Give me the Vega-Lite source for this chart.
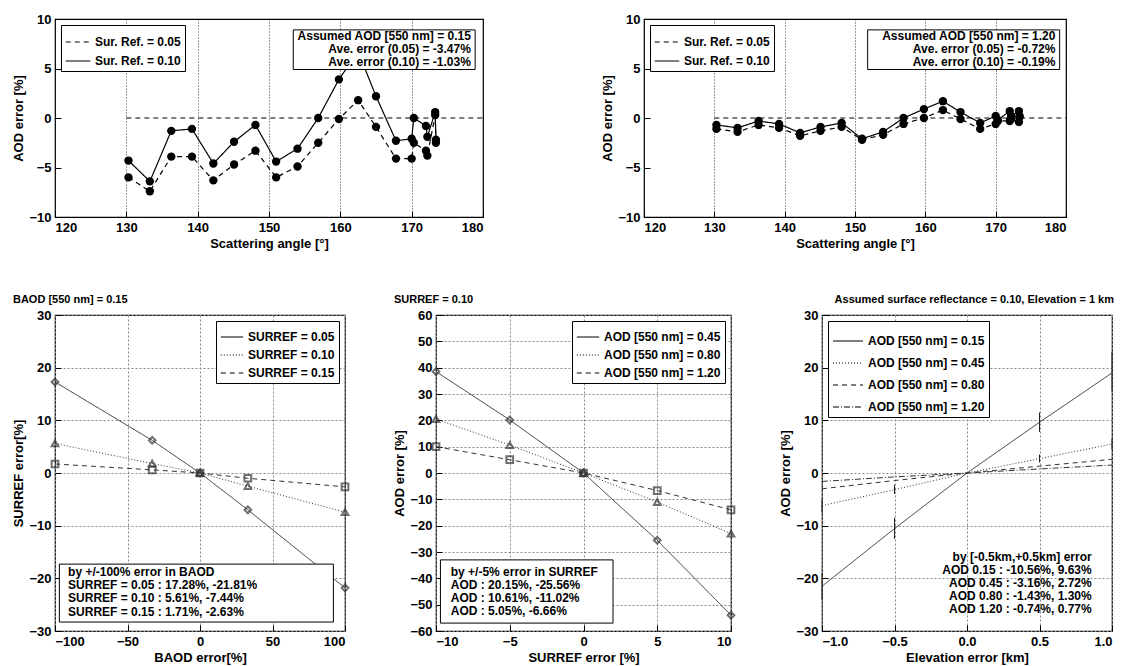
{
  "$schema": "https://vega.github.io/schema/vega-lite/v6.json",
  "background": "white",
  "padding": {"left": 12, "top": 12, "right": 5, "bottom": 2},
  "config": {
    "font": "Liberation Sans",
    "view": {"stroke": "black", "strokeWidth": 1.2},
    "axis": {
      "domain": false, "grid": false, "tickSize": -6, "tickColor": "black",
      "labelFontSize": 13, "labelFontWeight": "bold", "labelColor": "black", "labelPadding": 10,
      "titleFontSize": 13, "titleFontWeight": "bold", "titleColor": "black", "titlePadding": 3
    },
    "legend": {
      "strokeColor": "black", "fillColor": "white", "padding": 4, "labelFontSize": 12,
      "labelFontWeight": "bold", "labelColor": "black", "symbolStrokeColor": "black", "symbolStrokeWidth": 1.2,
      "offset": 6, "rowPadding": 0
    },
    "title": {"fontSize": 11, "fontWeight": "bold", "anchor": "start", "offset": 4}
  },
  "resolve": {"scale": {"x": "independent", "y": "independent", "strokeDash": "independent", "shape": "independent"}, "legend": {"strokeDash": "independent", "shape": "independent"}},
  "datasets": {
    "top1": [
      {"a": 130.3, "e": -4.3, "s": "Sur. Ref. = 0.10"}, {"a": 133.3, "e": -6.4, "s": "Sur. Ref. = 0.10"},
      {"a": 136.3, "e": -1.3, "s": "Sur. Ref. = 0.10"}, {"a": 139.2, "e": -1.1, "s": "Sur. Ref. = 0.10"},
      {"a": 142.2, "e": -4.6, "s": "Sur. Ref. = 0.10"}, {"a": 145.1, "e": -2.4, "s": "Sur. Ref. = 0.10"},
      {"a": 148.1, "e": -0.7, "s": "Sur. Ref. = 0.10"}, {"a": 151.0, "e": -4.4, "s": "Sur. Ref. = 0.10"},
      {"a": 154.0, "e": -3.1, "s": "Sur. Ref. = 0.10"}, {"a": 156.9, "e": 0.0, "s": "Sur. Ref. = 0.10"},
      {"a": 159.8, "e": 3.9, "s": "Sur. Ref. = 0.10"}, {"a": 162.5, "e": 6.7, "s": "Sur. Ref. = 0.10"},
      {"a": 165.0, "e": 2.2, "s": "Sur. Ref. = 0.10"}, {"a": 167.8, "e": -2.3, "s": "Sur. Ref. = 0.10"},
      {"a": 170.0, "e": -2.1, "s": "Sur. Ref. = 0.10"}, {"a": 170.3, "e": 0.0, "s": "Sur. Ref. = 0.10"},
      {"a": 172.0, "e": -0.8, "s": "Sur. Ref. = 0.10"}, {"a": 172.2, "e": -1.9, "s": "Sur. Ref. = 0.10"},
      {"a": 173.3, "e": 0.6, "s": "Sur. Ref. = 0.10"}, {"a": 173.4, "e": -2.2, "s": "Sur. Ref. = 0.10"},
      {"a": 130.3, "e": -6.0, "s": "Sur. Ref. = 0.05"}, {"a": 133.3, "e": -7.4, "s": "Sur. Ref. = 0.05"},
      {"a": 136.3, "e": -3.9, "s": "Sur. Ref. = 0.05"}, {"a": 139.2, "e": -3.9, "s": "Sur. Ref. = 0.05"},
      {"a": 142.2, "e": -6.3, "s": "Sur. Ref. = 0.05"}, {"a": 145.1, "e": -4.7, "s": "Sur. Ref. = 0.05"},
      {"a": 148.1, "e": -3.3, "s": "Sur. Ref. = 0.05"}, {"a": 151.0, "e": -6.0, "s": "Sur. Ref. = 0.05"},
      {"a": 154.0, "e": -4.9, "s": "Sur. Ref. = 0.05"}, {"a": 156.9, "e": -2.5, "s": "Sur. Ref. = 0.05"},
      {"a": 159.8, "e": -0.1, "s": "Sur. Ref. = 0.05"}, {"a": 162.5, "e": 1.8, "s": "Sur. Ref. = 0.05"},
      {"a": 165.0, "e": -0.9, "s": "Sur. Ref. = 0.05"}, {"a": 167.8, "e": -4.1, "s": "Sur. Ref. = 0.05"},
      {"a": 170.0, "e": -4.1, "s": "Sur. Ref. = 0.05"}, {"a": 170.3, "e": -2.5, "s": "Sur. Ref. = 0.05"},
      {"a": 172.0, "e": -3.3, "s": "Sur. Ref. = 0.05"}, {"a": 172.2, "e": -3.8, "s": "Sur. Ref. = 0.05"},
      {"a": 173.3, "e": 0.3, "s": "Sur. Ref. = 0.05"}, {"a": 173.4, "e": -2.5, "s": "Sur. Ref. = 0.05"}
    ],
    "top2": [
      {"a": 130.3, "e": -0.7, "s": "Sur. Ref. = 0.10"}, {"a": 133.3, "e": -1.0, "s": "Sur. Ref. = 0.10"},
      {"a": 136.3, "e": -0.3, "s": "Sur. Ref. = 0.10"}, {"a": 139.2, "e": -0.6, "s": "Sur. Ref. = 0.10"},
      {"a": 142.2, "e": -1.5, "s": "Sur. Ref. = 0.10"}, {"a": 145.1, "e": -0.9, "s": "Sur. Ref. = 0.10"},
      {"a": 148.1, "e": -0.5, "s": "Sur. Ref. = 0.10"}, {"a": 151.0, "e": -2.1, "s": "Sur. Ref. = 0.10"},
      {"a": 154.0, "e": -1.4, "s": "Sur. Ref. = 0.10"}, {"a": 156.9, "e": 0.0, "s": "Sur. Ref. = 0.10"},
      {"a": 159.8, "e": 0.9, "s": "Sur. Ref. = 0.10"}, {"a": 162.5, "e": 1.7, "s": "Sur. Ref. = 0.10"},
      {"a": 165.0, "e": 0.6, "s": "Sur. Ref. = 0.10"}, {"a": 167.8, "e": -0.5, "s": "Sur. Ref. = 0.10"},
      {"a": 170.0, "e": 0.2, "s": "Sur. Ref. = 0.10"}, {"a": 170.3, "e": -0.2, "s": "Sur. Ref. = 0.10"},
      {"a": 172.0, "e": 0.7, "s": "Sur. Ref. = 0.10"}, {"a": 172.2, "e": 0.2, "s": "Sur. Ref. = 0.10"},
      {"a": 173.3, "e": 0.7, "s": "Sur. Ref. = 0.10"}, {"a": 173.4, "e": 0.2, "s": "Sur. Ref. = 0.10"},
      {"a": 130.3, "e": -1.1, "s": "Sur. Ref. = 0.05"}, {"a": 133.3, "e": -1.4, "s": "Sur. Ref. = 0.05"},
      {"a": 136.3, "e": -0.7, "s": "Sur. Ref. = 0.05"}, {"a": 139.2, "e": -1.0, "s": "Sur. Ref. = 0.05"},
      {"a": 142.2, "e": -1.8, "s": "Sur. Ref. = 0.05"}, {"a": 145.1, "e": -1.3, "s": "Sur. Ref. = 0.05"},
      {"a": 148.1, "e": -0.9, "s": "Sur. Ref. = 0.05"}, {"a": 151.0, "e": -2.2, "s": "Sur. Ref. = 0.05"},
      {"a": 154.0, "e": -1.7, "s": "Sur. Ref. = 0.05"}, {"a": 156.9, "e": -0.6, "s": "Sur. Ref. = 0.05"},
      {"a": 159.8, "e": 0.0, "s": "Sur. Ref. = 0.05"}, {"a": 162.5, "e": 0.8, "s": "Sur. Ref. = 0.05"},
      {"a": 165.0, "e": -0.1, "s": "Sur. Ref. = 0.05"}, {"a": 167.8, "e": -1.1, "s": "Sur. Ref. = 0.05"},
      {"a": 170.0, "e": -0.6, "s": "Sur. Ref. = 0.05"}, {"a": 170.3, "e": -0.3, "s": "Sur. Ref. = 0.05"},
      {"a": 172.0, "e": -0.3, "s": "Sur. Ref. = 0.05"}, {"a": 172.2, "e": -0.1, "s": "Sur. Ref. = 0.05"},
      {"a": 173.3, "e": -0.4, "s": "Sur. Ref. = 0.05"}, {"a": 173.4, "e": 0.1, "s": "Sur. Ref. = 0.05"}
    ],
    "zero": [{"a": 130, "e": 0}, {"a": 180, "e": 0}],
    "box1": [{"x1": 153.4, "x2": 178.9, "y1": 4.9, "y2": 8.9}],
    "txt1": [
      {"x": 178.3, "y": 8.3, "t": "Assumed AOD [550 nm] =  0.15"},
      {"x": 178.3, "y": 7.0, "t": "Ave. error (0.05) = -3.47%"},
      {"x": 178.3, "y": 5.7, "t": "Ave. error (0.10) = -1.03%"}
    ],
    "box2": [{"x1": 151.8, "x2": 179.1, "y1": 4.9, "y2": 8.9}],
    "txt2": [
      {"x": 178.5, "y": 8.3, "t": "Assumed AOD [550 nm] =  1.20"},
      {"x": 178.5, "y": 7.0, "t": "Ave. error (0.05) = -0.72%"},
      {"x": 178.5, "y": 5.7, "t": "Ave. error (0.10) = -0.19%"}
    ],
    "b1": [
      {"x": -100, "y": 17.28, "s": "SURREF = 0.05"}, {"x": -33, "y": 6.2, "s": "SURREF = 0.05"}, {"x": 0, "y": 0, "s": "SURREF = 0.05"}, {"x": 33, "y": -7.0, "s": "SURREF = 0.05"}, {"x": 100, "y": -21.81, "s": "SURREF = 0.05"},
      {"x": -100, "y": 5.61, "s": "SURREF = 0.10"}, {"x": -33, "y": 1.8, "s": "SURREF = 0.10"}, {"x": 0, "y": 0, "s": "SURREF = 0.10"}, {"x": 33, "y": -2.5, "s": "SURREF = 0.10"}, {"x": 100, "y": -7.44, "s": "SURREF = 0.10"},
      {"x": -100, "y": 1.71, "s": "SURREF = 0.15"}, {"x": -33, "y": 0.6, "s": "SURREF = 0.15"}, {"x": 0, "y": 0, "s": "SURREF = 0.15"}, {"x": 33, "y": -1.0, "s": "SURREF = 0.15"}, {"x": 100, "y": -2.63, "s": "SURREF = 0.15"}
    ],
    "bbox1": [{"x1": -97, "x2": 92, "y1": -28.3, "y2": -17.3}],
    "btxt1": [
      {"x": -91, "y": -18.8, "t": "by +/-100% error in BAOD"},
      {"x": -91, "y": -21.3, "t": "SURREF = 0.05 :  17.28%,  -21.81%"},
      {"x": -91, "y": -23.8, "t": "SURREF = 0.10 :    5.61%,    -7.44%"},
      {"x": -91, "y": -26.3, "t": "SURREF = 0.15 :    1.71%,    -2.63%"}
    ],
    "b2": [
      {"x": -10, "y": 38.5, "s": "AOD [550 nm] = 0.45"}, {"x": -5, "y": 20.15, "s": "AOD [550 nm] = 0.45"}, {"x": 0, "y": 0, "s": "AOD [550 nm] = 0.45"}, {"x": 5, "y": -25.56, "s": "AOD [550 nm] = 0.45"}, {"x": 10, "y": -54, "s": "AOD [550 nm] = 0.45"},
      {"x": -10, "y": 20.5, "s": "AOD [550 nm] = 0.80"}, {"x": -5, "y": 10.61, "s": "AOD [550 nm] = 0.80"}, {"x": 0, "y": 0, "s": "AOD [550 nm] = 0.80"}, {"x": 5, "y": -11.02, "s": "AOD [550 nm] = 0.80"}, {"x": 10, "y": -23, "s": "AOD [550 nm] = 0.80"},
      {"x": -10, "y": 10, "s": "AOD [550 nm] = 1.20"}, {"x": -5, "y": 5.05, "s": "AOD [550 nm] = 1.20"}, {"x": 0, "y": 0, "s": "AOD [550 nm] = 1.20"}, {"x": 5, "y": -6.66, "s": "AOD [550 nm] = 1.20"}, {"x": 10, "y": -14, "s": "AOD [550 nm] = 1.20"}
    ],
    "bbox2": [{"x1": -9.7, "x2": 2.0, "y1": -57, "y2": -33}],
    "btxt2": [
      {"x": -9.0, "y": -37.5, "t": "by +/-5% error in SURREF"},
      {"x": -9.0, "y": -42.5, "t": "AOD :  20.15%,  -25.56%"},
      {"x": -9.0, "y": -47.5, "t": "AOD :  10.61%,  -11.02%"},
      {"x": -9.0, "y": -52.5, "t": "AOD :    5.05%,    -6.66%"}
    ],
    "b3": [
      {"x": -1, "y": -21.5, "s": "AOD [550 nm] = 0.15"}, {"x": -0.5, "y": -10.56, "s": "AOD [550 nm] = 0.15"}, {"x": 0, "y": 0, "s": "AOD [550 nm] = 0.15"}, {"x": 0.5, "y": 9.63, "s": "AOD [550 nm] = 0.15"}, {"x": 1, "y": 19, "s": "AOD [550 nm] = 0.15"},
      {"x": -1, "y": -6.2, "s": "AOD [550 nm] = 0.45"}, {"x": -0.5, "y": -3.16, "s": "AOD [550 nm] = 0.45"}, {"x": 0, "y": 0, "s": "AOD [550 nm] = 0.45"}, {"x": 0.5, "y": 2.72, "s": "AOD [550 nm] = 0.45"}, {"x": 1, "y": 5.5, "s": "AOD [550 nm] = 0.45"},
      {"x": -1, "y": -3.0, "s": "AOD [550 nm] = 0.80"}, {"x": -0.5, "y": -1.43, "s": "AOD [550 nm] = 0.80"}, {"x": 0, "y": 0, "s": "AOD [550 nm] = 0.80"}, {"x": 0.5, "y": 1.3, "s": "AOD [550 nm] = 0.80"}, {"x": 1, "y": 2.6, "s": "AOD [550 nm] = 0.80"},
      {"x": -1, "y": -1.6, "s": "AOD [550 nm] = 1.20"}, {"x": -0.5, "y": -0.74, "s": "AOD [550 nm] = 1.20"}, {"x": 0, "y": 0, "s": "AOD [550 nm] = 1.20"}, {"x": 0.5, "y": 0.77, "s": "AOD [550 nm] = 1.20"}, {"x": 1, "y": 1.5, "s": "AOD [550 nm] = 1.20"}
    ],
    "err3": [
      {"x": 0.5, "lo": 7.8, "hi": 11.5}, {"x": -0.5, "lo": -12.5, "hi": -8.5}, {"x": 1, "lo": 15.5, "hi": 23},
      {"x": 0.5, "lo": 2.0, "hi": 3.5}, {"x": -0.5, "lo": -4, "hi": -2.2}, {"x": 1, "lo": 4.5, "hi": 6.5},
      {"x": -1, "lo": -24, "hi": -19}, {"x": -1, "lo": -7.5, "hi": -5}
    ],
    "btxt3": [
      {"x": 0.86, "y": -15.9, "t": "by [-0.5km,+0.5km] error"},
      {"x": 0.86, "y": -18.4, "t": "AOD 0.15 : -10.56%,    9.63%"},
      {"x": 0.86, "y": -20.9, "t": "AOD 0.45 :  -3.16%,    2.72%"},
      {"x": 0.86, "y": -23.4, "t": "AOD 0.80 :  -1.43%,    1.30%"},
      {"x": 0.86, "y": -25.9, "t": "AOD 1.20 :  -0.74%,    0.77%"}
    ]
  },
  "vconcat": [
    {
      "spacing": 115,
      "hconcat": [
        {
          "width": 428, "height": 198,
          "encoding": {
            "x": {"field": "a", "type": "quantitative", "scale": {"domain": [120, 180], "nice": false},
                  "axis": {"title": "Scattering angle [°]", "values": [120, 130, 140, 150, 160, 170, 180], "grid": true, "gridColor": "black", "gridDash": [1, 2], "gridWidth": 0.8}},
            "y": {"field": "e", "type": "quantitative", "scale": {"domain": [-10, 10], "nice": false},
                  "axis": {"title": "AOD error [%]", "values": [-10, -5, 0, 5, 10]}}
          },
          "layer": [
            {"data": {"name": "zero"}, "mark": {"type": "line", "color": "black", "strokeDash": [5, 4], "strokeWidth": 1}},
            {"data": {"name": "top1"},
             "mark": {"type": "line", "color": "black", "strokeWidth": 1.2},
             "encoding": {"strokeDash": {"field": "s", "type": "nominal",
               "scale": {"domain": ["Sur. Ref. = 0.05", "Sur. Ref. = 0.10"], "range": [[5, 4], [1, 0]]},
               "legend": {"orient": "top-left", "title": null, "symbolType": "stroke", "symbolSize": 600}}}},
            {"data": {"name": "top1"}, "mark": {"type": "circle", "color": "black", "size": 70, "opacity": 1}},
            {"data": {"name": "box1"}, "mark": {"type": "rect", "fill": "white", "stroke": "black", "strokeWidth": 1},
             "encoding": {"x": {"field": "x1", "type": "quantitative"}, "x2": {"field": "x2"}, "y": {"field": "y1", "type": "quantitative"}, "y2": {"field": "y2"}}},
            {"data": {"name": "txt1"}, "mark": {"type": "text", "align": "right", "fontSize": 12, "fontWeight": "bold"},
             "encoding": {"x": {"field": "x", "type": "quantitative"}, "y": {"field": "y", "type": "quantitative"}, "text": {"field": "t"}}}
          ]
        },
        {
          "width": 422, "height": 198,
          "encoding": {
            "x": {"field": "a", "type": "quantitative", "scale": {"domain": [120, 180], "nice": false},
                  "axis": {"title": "Scattering angle [°]", "values": [120, 130, 140, 150, 160, 170, 180], "grid": true, "gridColor": "black", "gridDash": [1, 2], "gridWidth": 0.8}},
            "y": {"field": "e", "type": "quantitative", "scale": {"domain": [-10, 10], "nice": false},
                  "axis": {"title": "AOD error [%]", "values": [-10, -5, 0, 5, 10]}}
          },
          "layer": [
            {"data": {"name": "zero"}, "mark": {"type": "line", "color": "black", "strokeDash": [5, 4], "strokeWidth": 1}},
            {"data": {"name": "top2"},
             "mark": {"type": "line", "color": "black", "strokeWidth": 1.2},
             "encoding": {"strokeDash": {"field": "s", "type": "nominal",
               "scale": {"domain": ["Sur. Ref. = 0.05", "Sur. Ref. = 0.10"], "range": [[5, 4], [1, 0]]},
               "legend": {"orient": "top-left", "title": null, "symbolType": "stroke", "symbolSize": 600}}}},
            {"data": {"name": "top2"}, "mark": {"type": "circle", "color": "black", "size": 70, "opacity": 1}},
            {"data": {"name": "box2"}, "mark": {"type": "rect", "fill": "white", "stroke": "black", "strokeWidth": 1},
             "encoding": {"x": {"field": "x1", "type": "quantitative"}, "x2": {"field": "x2"}, "y": {"field": "y1", "type": "quantitative"}, "y2": {"field": "y2"}}},
            {"data": {"name": "txt2"}, "mark": {"type": "text", "align": "right", "fontSize": 12, "fontWeight": "bold"},
             "encoding": {"x": {"field": "x", "type": "quantitative"}, "y": {"field": "y", "type": "quantitative"}, "text": {"field": "t"}}}
          ]
        }
      ],
      "resolve": {"scale": {"x": "independent", "strokeDash": "independent"}, "legend": {"strokeDash": "independent"}}
    },
    {
      "spacing": 40,
      "hconcat": [
        {
          "title": "BAOD [550 nm] = 0.15",
          "width": 290, "height": 316,
          "encoding": {
            "x": {"field": "x", "type": "quantitative", "scale": {"domain": [-100, 100], "nice": false},
                  "axis": {"title": "BAOD error[%]", "values": [-100, -50, 0, 50, 100], "grid": true, "gridColor": "#888", "gridDash": [2, 2]}},
            "y": {"field": "y", "type": "quantitative", "scale": {"domain": [-30, 30], "nice": false},
                  "axis": {"title": "SURREF error[%]", "values": [-30, -20, -10, 0, 10, 20, 30], "grid": true, "gridColor": "#888", "gridDash": [2, 2]}}
          },
          "layer": [
            {"data": {"name": "b1"}, "mark": {"type": "line", "color": "#333", "strokeWidth": 1},
             "encoding": {"strokeDash": {"field": "s", "type": "nominal", "scale": {"range": [[1, 0], [1, 2], [5, 4]]}, "legend": {"orient": "top-right", "title": null, "symbolType": "stroke", "symbolSize": 500}}}},
            {"data": {"name": "b1"}, "mark": {"type": "point", "filled": false, "color": "#333", "size": 45},
             "encoding": {"shape": {"field": "s", "type": "nominal", "scale": {"range": ["diamond", "triangle-up", "square"]}, "legend": null}}},
            {"data": {"name": "bbox1"}, "mark": {"type": "rect", "fill": "white", "stroke": "black", "strokeWidth": 1},
             "encoding": {"x": {"field": "x1", "type": "quantitative"}, "x2": {"field": "x2"}, "y": {"field": "y1", "type": "quantitative"}, "y2": {"field": "y2"}}},
            {"data": {"name": "btxt1"}, "mark": {"type": "text", "align": "left", "fontSize": 12, "fontWeight": "bold"},
             "encoding": {"x": {"field": "x", "type": "quantitative"}, "y": {"field": "y", "type": "quantitative"}, "text": {"field": "t"}}}
          ]
        },
        {
          "title": "SURREF = 0.10",
          "width": 295, "height": 316,
          "encoding": {
            "x": {"field": "x", "type": "quantitative", "scale": {"domain": [-10, 10], "nice": false},
                  "axis": {"title": "SURREF error [%]", "values": [-10, -5, 0, 5, 10], "grid": true, "gridColor": "#888", "gridDash": [2, 2]}},
            "y": {"field": "y", "type": "quantitative", "scale": {"domain": [-60, 60], "nice": false},
                  "axis": {"title": "AOD error [%]", "values": [-60, -50, -40, -30, -20, -10, 0, 10, 20, 30, 40, 50, 60], "grid": true, "gridColor": "#888", "gridDash": [2, 2]}}
          },
          "layer": [
            {"data": {"name": "b2"}, "mark": {"type": "line", "color": "#333", "strokeWidth": 1},
             "encoding": {"strokeDash": {"field": "s", "type": "nominal", "scale": {"range": [[1, 0], [1, 2], [5, 4]]}, "legend": {"orient": "top-right", "title": null, "symbolType": "stroke", "symbolSize": 500}}}},
            {"data": {"name": "b2"}, "mark": {"type": "point", "filled": false, "color": "#333", "size": 45},
             "encoding": {"shape": {"field": "s", "type": "nominal", "scale": {"range": ["diamond", "triangle-up", "square"]}, "legend": null}}},
            {"data": {"name": "bbox2"}, "mark": {"type": "rect", "fill": "white", "stroke": "black", "strokeWidth": 1},
             "encoding": {"x": {"field": "x1", "type": "quantitative"}, "x2": {"field": "x2"}, "y": {"field": "y1", "type": "quantitative"}, "y2": {"field": "y2"}}},
            {"data": {"name": "btxt2"}, "mark": {"type": "text", "align": "left", "fontSize": 12, "fontWeight": "bold"},
             "encoding": {"x": {"field": "x", "type": "quantitative"}, "y": {"field": "y", "type": "quantitative"}, "text": {"field": "t"}}}
          ]
        },
        {
          "title": {"text": "Assumed surface reflectance = 0.10, Elevation = 1 km", "anchor": "end"},
          "width": 290, "height": 316,
          "encoding": {
            "x": {"field": "x", "type": "quantitative", "scale": {"domain": [-1, 1], "nice": false},
                  "axis": {"title": "Elevation error [km]", "values": [-1, -0.5, 0, 0.5, 1], "format": ".1f", "grid": true, "gridColor": "#888", "gridDash": [2, 2]}},
            "y": {"field": "y", "type": "quantitative", "scale": {"domain": [-30, 30], "nice": false},
                  "axis": {"title": "AOD error [%]", "values": [-30, -20, -10, 0, 10, 20, 30], "grid": true, "gridColor": "#888", "gridDash": [2, 2]}}
          },
          "layer": [
            {"data": {"name": "err3"}, "mark": {"type": "rule", "color": "#222", "strokeWidth": 1},
             "encoding": {"y": {"field": "lo", "type": "quantitative"}, "y2": {"field": "hi"}}},
            {"data": {"name": "b3"}, "mark": {"type": "line", "color": "#333", "strokeWidth": 1},
             "encoding": {"strokeDash": {"field": "s", "type": "nominal", "scale": {"range": [[1, 0], [1, 2], [5, 4], [6, 2, 1, 2]]}, "legend": {"orient": "top-left", "title": null, "symbolType": "stroke", "symbolSize": 900}}}},
            {"data": {"name": "btxt3"}, "mark": {"type": "text", "align": "right", "fontSize": 12, "fontWeight": "bold"},
             "encoding": {"x": {"field": "x", "type": "quantitative"}, "y": {"field": "y", "type": "quantitative"}, "text": {"field": "t"}}}
          ]
        }
      ],
      "resolve": {"scale": {"x": "independent", "y": "independent", "strokeDash": "independent", "shape": "independent"}, "legend": {"strokeDash": "independent", "shape": "independent"}}
    }
  ],
  "spacing": 42
}
